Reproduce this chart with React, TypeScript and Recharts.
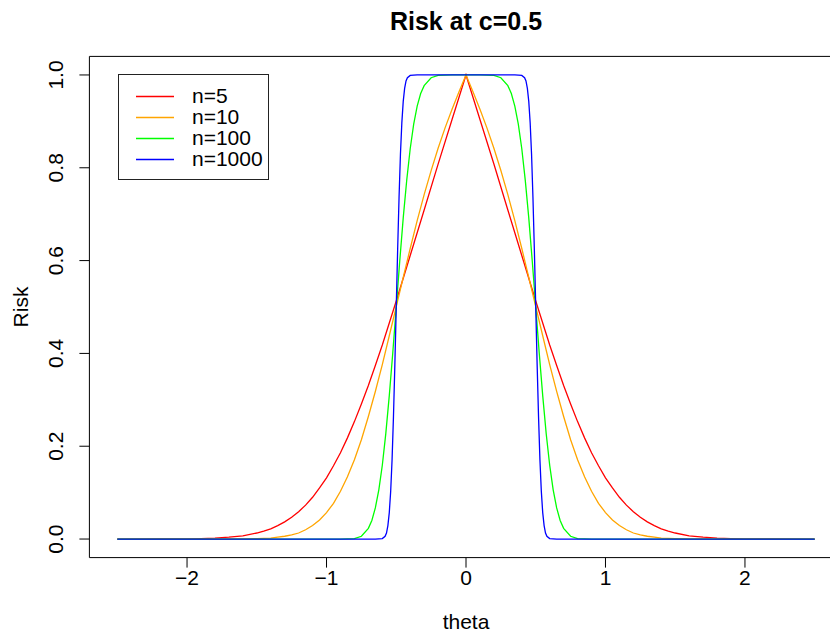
import { Line, LineChart, ReferenceArea, XAxis, YAxis } from 'recharts'

const FONT = '"Liberation Sans", Arial, Helvetica, sans-serif'

const seriesNames = ['n=5', 'n=10', 'n=100', 'n=1000']
const seriesColors = ['#ff0000', '#ffa500', '#00ff00', '#0000ff']

// right half (theta >= 0), the curves are symmetric about 0
const thetaN5 = [0, 0.05, 0.1, 0.2, 0.3, 0.4, 0.5, 0.6, 0.65, 0.7, 0.75, 0.8, 0.85, 0.9, 0.95, 1.0, 1.05, 1.1, 1.15, 1.2, 1.25, 1.3, 1.35, 1.4, 1.45, 1.5, 1.6, 1.7, 1.8, 1.9, 2.0, 2.2, 2.5]
const riskN5 = [1, 0.952, 0.904, 0.808, 0.709, 0.611, 0.513, 0.418, 0.374, 0.331, 0.291, 0.253, 0.218, 0.186, 0.158, 0.132, 0.11, 0.09, 0.073, 0.059, 0.047, 0.037, 0.029, 0.022, 0.017, 0.013, 0.007, 0.004, 0.002, 0.001, 0.0005, 0.0001, 0]

const thetaN10 = [0, 0.05, 0.1, 0.15, 0.2, 0.25, 0.3, 0.35, 0.4, 0.45, 0.5, 0.55, 0.6, 0.65, 0.7, 0.75, 0.8, 0.85, 0.9, 0.95, 1.0, 1.05, 1.1, 1.15, 1.2, 1.25, 1.3, 1.35, 1.4, 1.5, 1.6, 1.8, 2.5]
const riskN10 = [1, 0.964, 0.926, 0.886, 0.842, 0.794, 0.742, 0.686, 0.626, 0.564, 0.501, 0.438, 0.376, 0.318, 0.264, 0.214, 0.171, 0.134, 0.103, 0.077, 0.057, 0.041, 0.029, 0.02, 0.013, 0.009, 0.006, 0.004, 0.002, 0.001, 0.0003, 0, 0]

const thetaN100 = [0, 0.1, 0.2, 0.25, 0.3, 0.325, 0.35, 0.375, 0.4, 0.425, 0.45, 0.475, 0.5, 0.525, 0.55, 0.575, 0.6, 0.625, 0.65, 0.675, 0.7, 0.75, 0.8, 0.9, 2.5]
const riskN100 = [1, 1, 0.999, 0.994, 0.977, 0.96, 0.933, 0.894, 0.841, 0.773, 0.692, 0.599, 0.5, 0.401, 0.309, 0.227, 0.159, 0.106, 0.067, 0.04, 0.023, 0.006, 0.001, 0, 0]

const thetaN1000 = [0, 0.35, 0.4, 0.42, 0.43, 0.44, 0.45, 0.46, 0.47, 0.48, 0.49, 0.5, 0.51, 0.52, 0.53, 0.54, 0.55, 0.56, 0.57, 0.58, 0.6, 0.65, 2.5]
const riskN1000 = [1, 1, 0.999, 0.994, 0.987, 0.971, 0.943, 0.897, 0.829, 0.736, 0.624, 0.5, 0.376, 0.264, 0.171, 0.103, 0.057, 0.029, 0.013, 0.006, 0.001, 0, 0]

const xTicks = [-2, -1, 0, 1, 2]
const yTicks = [0, 0.2, 0.4, 0.6, 0.8, 1]

interface Point {
  theta: number
  risk: number
}

function mirror(thetas: number[], risks: number[]): Point[] {
  const right = thetas.map((t, i) => ({ theta: t, risk: risks[i] }))
  const left = right
    .filter((p) => p.theta > 0)
    .map((p) => ({ theta: -p.theta, risk: p.risk }))
    .reverse()
  return [...left, ...right]
}

const seriesData = [
  mirror(thetaN5, riskN5),
  mirror(thetaN10, riskN10),
  mirror(thetaN100, riskN100),
  mirror(thetaN1000, riskN1000),
]

function XTick(props: any) {
  const { x, y, payload } = props
  const label = String(payload.value).replace('-', '\u2212')
  return (
    <text x={x} y={y + 15} textAnchor="middle" fontSize={21} fontFamily={FONT} fill="#000">
      {label}
    </text>
  )
}

function YTick(props: any) {
  const { x, y, payload } = props
  const tx = x - 14
  return (
    <text
      x={tx}
      y={y}
      transform={`rotate(-90, ${tx}, ${y})`}
      textAnchor="middle"
      fontSize={21}
      fontFamily={FONT}
      fill="#000"
    >
      {Number(payload.value).toFixed(1)}
    </text>
  )
}

function LegendBox() {
  return (
    <div
      style={{
        position: 'absolute',
        left: 118,
        top: 74,
        width: 151,
        height: 106,
        border: '1px solid #222',
        boxSizing: 'border-box',
        fontFamily: FONT,
        fontSize: 21,
      }}
    >
      {seriesNames.map((name, i) => (
        <div key={name} style={{ position: 'absolute', left: 0, top: 10 + i * 21, height: 21, width: 150 }}>
          <svg width={60} height={21} style={{ position: 'absolute', left: 17, top: 0 }}>
            <line x1={0} x2={38} y1={11.5} y2={11.5} stroke={seriesColors[i]} strokeWidth={1.3} />
          </svg>
          <span style={{ position: 'absolute', left: 73, top: 0, lineHeight: '21px' }}>{name}</span>
        </div>
      ))}
    </div>
  )
}

export default function App() {
  return (
    <div
      style={{
        position: 'absolute',
        left: 0,
        top: 0,
        width: 830,
        height: 637,
        overflow: 'hidden',
        background: '#fff',
      }}
    >
      <LineChart width={860} height={637} margin={{ top: 56.4, right: 17.4, bottom: 0, left: 0.4 }}>
        <XAxis
          type="number"
          dataKey="theta"
          domain={[-2.7, 2.7]}
          ticks={xTicks}
          allowDataOverflow
          height={79.4}
          tickSize={10}
          tickMargin={2}
          tick={<XTick />}
          axisLine={false}
          tickLine={{ stroke: '#000' }}
        />
        <YAxis
          type="number"
          dataKey="risk"
          domain={[-0.04, 1.04]}
          ticks={yTicks}
          allowDataOverflow
          width={89}
          tickSize={10}
          tickMargin={2}
          tick={<YTick />}
          axisLine={false}
          tickLine={{ stroke: '#000' }}
        />
        <ReferenceArea
          x1={-2.7}
          x2={2.7}
          y1={-0.04}
          y2={1.04}
          fill="none"
          fillOpacity={0}
          stroke="#000"
          strokeWidth={1}
        />
        {seriesData.map((data, i) => (
          <Line
            key={seriesNames[i]}
            data={data}
            dataKey="risk"
            name={seriesNames[i]}
            type="linear"
            stroke={seriesColors[i]}
            strokeWidth={1.3}
            dot={false}
            isAnimationActive={false}
          />
        ))}
      </LineChart>
      <svg
        width={830}
        height={637}
        style={{ position: 'absolute', left: 0, top: 0, pointerEvents: 'none' }}
      >
        <text x={466} y={30} textAnchor="middle" fontSize={25} fontWeight="bold" fontFamily={FONT}>
          Risk at c=0.5
        </text>
        <text x={466} y={629} textAnchor="middle" fontSize={21} fontFamily={FONT}>
          theta
        </text>
        <text x={28} y={307} transform="rotate(-90, 28, 307)" textAnchor="middle" fontSize={21} fontFamily={FONT}>
          Risk
        </text>
      </svg>
      <LegendBox />
    </div>
  )
}
